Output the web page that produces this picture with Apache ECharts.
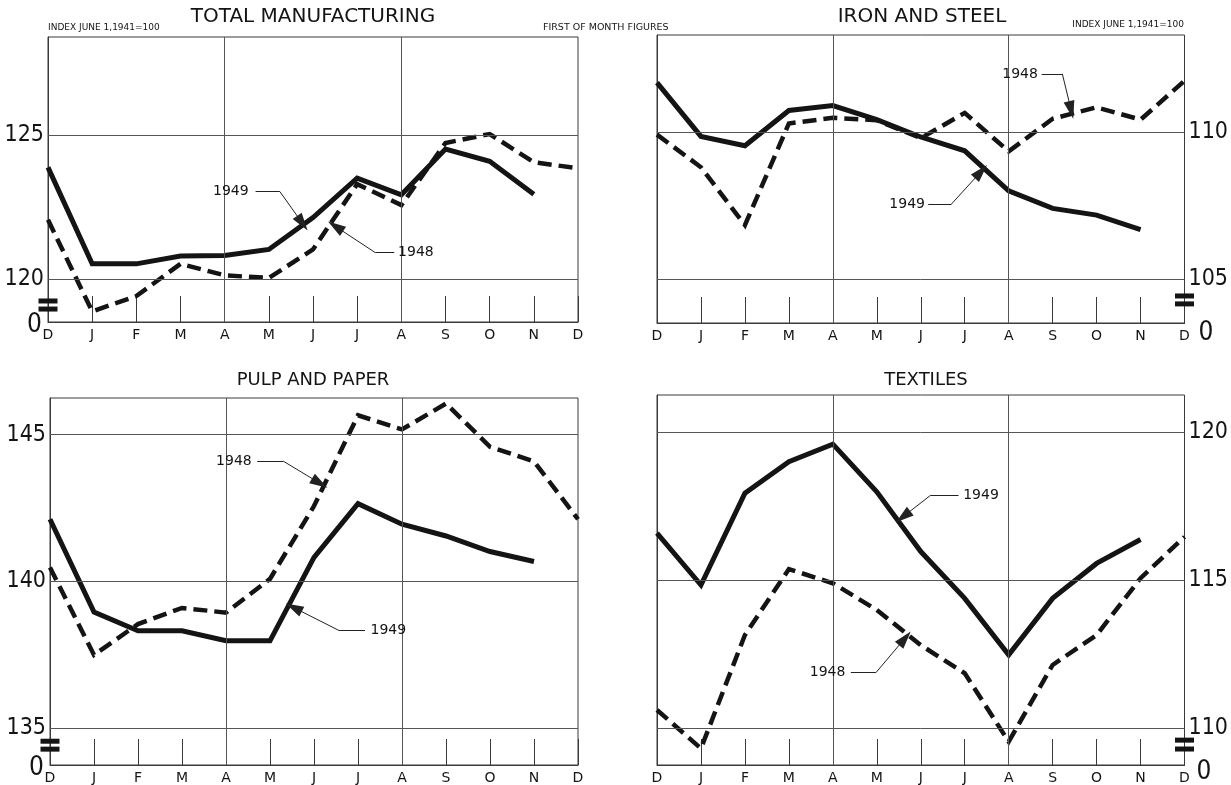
<!DOCTYPE html>
<html><head><meta charset="utf-8">
<script src="https://cdn.jsdelivr.net/npm/echarts@6/dist/echarts.min.js"></script>
<style>html,body{margin:0;padding:0;background:#fff}#c{width:1231px;height:785px}</style>
</head><body><div id="c"></div>
<script>
// ---- data ----
const months = ['D','J','F','M','A','M','J','J','A','S','O','N','D'];
const mfg1949 = [123.87,120.52,120.52,120.79,120.81,121.02,122.13,123.50,122.92,124.51,124.08,122.94];
const mfg1948 = [122.05,118.87,119.40,120.52,120.12,120.03,121.02,123.29,122.56,124.72,125.03,124.05,123.84];
const steel1949 = [111.68,109.85,109.53,110.73,110.90,110.42,109.83,109.36,108.00,107.40,107.17,106.68];
const steel1948 = [109.91,108.80,106.83,110.29,110.48,110.40,109.79,110.65,109.34,110.45,110.84,110.42,111.74];
const pulp1949 = [142.12,138.96,138.32,138.32,137.98,137.98,140.82,142.65,141.95,141.55,141.02,140.68];
const pulp1948 = [140.48,137.50,138.55,139.10,138.94,140.09,142.57,145.66,145.18,146.06,144.59,144.09,142.12];
const tex1949 = [116.58,114.83,117.93,119.00,119.59,117.98,115.96,114.38,112.47,114.38,115.56,116.37];
const tex1948 = [110.61,109.31,113.14,115.37,114.89,113.99,112.80,111.85,109.54,112.13,113.14,115.06,116.46];
const mfgTicks = [120,125];
const steelTicks = [105,110];
const pulpTicks = [135,140,145];
const texTicks = [110,115,120];
const titles = ['TOTAL MANUFACTURING','IRON AND STEEL','PULP AND PAPER','TEXTILES'];
const yearLabels = ['1949','1948'];

// ---- layout ----
const FONT = "'DejaVu Sans', sans-serif";
const NUMFONT = "'Liberation Sans Narrow','DejaVu Sans Condensed', sans-serif";
const panels = [
  {grid:{left:48,top:37,width:530,height:285}, min:118.5, max:128.4, interval:0.5, side:'left',
   ticks:mfgTicks, s49:mfg1949, s48:mfg1948, breaks:[119.23,118.95], zeroPad:[7,2,0,0],
   notes:[{label:yearLabels[0], text:[4.14,123.03], path:[[4.70,123.03],[5.25,123.03],[5.76,121.93]]},
          {label:yearLabels[1], text:[8.33,120.91], path:[[7.84,120.91],[7.41,120.91],[6.51,121.82]]}]},
  {grid:{left:657,top:35,width:529,height:288}, min:103.5, max:113.3, interval:0.5, side:'right',
   ticks:steelTicks, s49:steel1949, s48:steel1948, breaks:[104.42,104.15], zeroPad:[20,0,0,10],
   notes:[{label:yearLabels[1], text:[8.26,111.96], path:[[8.75,111.98],[9.22,111.98],[9.42,110.75]]},
          {label:yearLabels[0], text:[5.69,107.55], path:[[6.17,107.55],[6.70,107.55],[7.37,108.65]]}]},
  {grid:{left:50,top:398,width:528,height:371}, min:133.75, max:146.25, interval:0.25, side:'left',
   ticks:pulpTicks, s49:pulp1949, s48:pulp1948, breaks:[134.56,134.29], zeroPad:[7,2,0,0],
   notes:[{label:yearLabels[1], text:[4.18,144.10], path:[[4.71,144.10],[5.30,144.10],[6.13,143.35]]},
          {label:yearLabels[0], text:[7.69,138.33], path:[[7.16,138.33],[6.57,138.33],[5.54,139.11]]}]},
  {grid:{left:657,top:395,width:529,height:371}, min:108.75, max:121.25, interval:0.25, side:'right',
   ticks:texTicks, s49:tex1949, s48:tex1948, breaks:[109.59,109.29], zeroPad:[14,0,0,8],
   notes:[{label:yearLabels[0], text:[7.37,117.87], path:[[6.86,117.87],[6.23,117.87],[5.60,117.14]]},
          {label:yearLabels[1], text:[3.88,111.87], path:[[4.41,111.87],[4.98,111.87],[5.64,113.03]]}]}
];

const grids = [], xAxes = [], yAxes = [], series = [];
const INK = '#141414';
panels.forEach((p, i) => {
  grids.push(Object.assign({show:true, borderColor:'#3a3a3a', borderWidth:1, backgroundColor:'transparent'}, p.grid));
  xAxes.push({type:'value', gridIndex:i, min:0, max:12, interval:1,
    axisLine:{show:true, lineStyle:{color:'#3a3a3a', width:1}},
    axisTick:{show:true, inside:true, length:26, lineStyle:{color:'#3a3a3a', width:1}},
    splitLine:{show:false},
    axisLabel:{show:true, margin:6, fontFamily:FONT, fontSize:14, color:INK,
      formatter: v => months[Math.round(v)] || ''}});
  yAxes.push({type:'value', gridIndex:i, min:p.min, max:p.max, interval:p.interval, position:p.side,
    axisLine:{show:true, lineStyle:{color:'#3a3a3a', width:1}},
    axisTick:{show:false}, splitLine:{show:false},
    axisLabel:{show:true, margin:4, fontFamily:NUMFONT, fontSize:23, color:INK,
      showMinLabel:true, showMaxLabel:false, hideOverlap:false,
      formatter: v => {
        if (Math.abs(v - p.min) < 1e-6) return '{z|0}';
        for (const t of p.ticks) if (Math.abs(v - t) < 1e-6) return String(t);
        return '';
      },
      rich:{z:{fontFamily:NUMFONT, fontSize:26, color:INK, padding:p.zeroPad}}}});
  const edgeX = p.side === 'left' ? 0 : 12;
  // grid lines and break marks
  series.push({type:'line', xAxisIndex:i, yAxisIndex:i, data:[], silent:true, z:1,
    markLine:{silent:true, symbol:'none', animation:false, label:{show:false},
      lineStyle:{color:'#555', width:1, type:'solid'},
      data:[...p.ticks.map(t => ({yAxis:t})), {xAxis:4}, {xAxis:8}]},
    markPoint:{silent:true, animation:false, symbol:'rect', symbolSize:[19,5],
      itemStyle:{color:INK}, label:{show:false},
      data:p.breaks.map(v => ({coord:[edgeX, v]}))}});
  // 1949 solid
  series.push({type:'line', name:'1949', xAxisIndex:i, yAxisIndex:i, z:3, symbol:'none', animation:false,
    data:p.s49.map((v, k) => [k, v]),
    lineStyle:{color:INK, width:5, join:'miter'}});
  // 1948 dashed
  series.push({type:'line', name:'1948', xAxisIndex:i, yAxisIndex:i, z:3, symbol:'none', animation:false,
    data:p.s48.map((v, k) => [k, v]),
    lineStyle:{color:INK, width:4.5, type:[14,7], join:'miter'}});
  // annotations
  const lines = [];
  const pts = [];
  p.notes.forEach(n => {
    lines.push([{coord:n.path[0], symbol:'none'}, {coord:n.path[1], symbol:'none'}]);
    lines.push([{coord:n.path[1], symbol:'none'}, {coord:n.path[2], symbol:'triangle', symbolSize:[11,18]}]);
    pts.push({coord:n.text, value:n.label});
  });
  series.push({type:'line', xAxisIndex:i, yAxisIndex:i, data:[], silent:true, z:4,
    markLine:{silent:true, animation:false, label:{show:false}, symbol:'none',
      lineStyle:{color:'#222', width:1, type:'solid'}, itemStyle:{color:'#111'}, data:lines},
    markPoint:{silent:true, animation:false, symbol:'rect', symbolSize:1,
      itemStyle:{color:'rgba(0,0,0,0)'},
      label:{show:true, position:'inside', formatter:'{c}', color:INK, fontFamily:FONT, fontSize:14},
      data:pts}});
});

const gtext = (x, y, text, size, align) => ({type:'text', x, y, silent:true,
  style:{text, fontFamily:FONT, fontSize:size, fill:INK, align:align||'center', verticalAlign:'middle'}});

const chart = echarts.init(document.getElementById('c'), null, {renderer:'canvas'});
chart.setOption({
  backgroundColor:'#ffffff',
  animation:false,
  grid:grids, xAxis:xAxes, yAxis:yAxes, series,
  graphic:[
    gtext(313, 17, titles[0], 20),
    gtext(922, 17, titles[1], 20),
    gtext(313, 380, titles[2], 18),
    gtext(926, 380, titles[3], 18),
    gtext(48, 28, 'INDEX JUNE 1,1941=100', 9, 'left'),
    gtext(543, 28, 'FIRST OF MONTH FIGURES', 9.5, 'left'),
    gtext(1184, 25, 'INDEX JUNE 1,1941=100', 9, 'right')
  ]
});
</script></body></html>
